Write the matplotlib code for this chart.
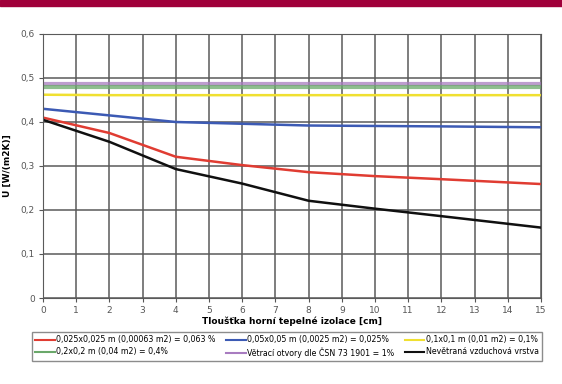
import matplotlib.pyplot as plt
from matplotlib.patches import Rectangle

# thickness of insulation [cm]
x = [0, 2, 4, 6, 8, 10, 12, 15]

u_red = [0.410, 0.375, 0.321, 0.302, 0.286, 0.277, 0.270, 0.259]
u_blue = [0.430, 0.415, 0.400, 0.396, 0.392, 0.391, 0.390, 0.388]
u_yellow = [0.462, 0.461, 0.461, 0.461, 0.461, 0.461, 0.461, 0.461]
u_green = [0.479, 0.479, 0.479, 0.479, 0.479, 0.479, 0.479, 0.479]
u_purple = [0.486, 0.486, 0.486, 0.486, 0.486, 0.486, 0.486, 0.486]
u_black = [0.405, 0.355, 0.293, 0.260, 0.221, 0.203, 0.186, 0.160]

labels = [
    "0,025x0,025 m (0,00063 m2) = 0,063 %",
    "0,05x0,05 m (0,0025 m2) = 0,025%",
    "0,1x0,1 m (0,01 m2) = 0,1%",
    "0,2x0,2 m (0,04 m2) = 0,4%",
    "Větrací otvory dle ČSN 73 1901 = 1%",
    "Nevětraná vzduchová vrstva",
]

xticks = list(range(0, 16))
yticks = [0, 0.1, 0.2, 0.3, 0.4, 0.5, 0.6]
ytick_labels = ["0", "0,1", "0,2", "0,3", "0,4", "0,5", "0,6"]

fig = plt.figure(figsize=(5.62, 3.84), dpi=100)
fig.patches.append(Rectangle((0, 1 - 6 / 384), 1, 6 / 384, transform=fig.transFigure,
                             color="#a0003a", zorder=0))

ax = fig.add_axes([43 / 562, 1 - 298 / 384, (541 - 43) / 562, (298 - 34) / 384])

ax.grid(True, color="#5a5a5a", linewidth=1.1)
ax.set_axisbelow(True)

l_purple, = ax.plot(x, u_purple, color="#a87cc0", linewidth=3, alpha=0.75)
l_green, = ax.plot(x, u_green, color="#6aa86a", linewidth=3, alpha=0.75)
l_yellow, = ax.plot(x, u_yellow, color="#f0e030", linewidth=1.8)
l_blue, = ax.plot(x, u_blue, color="#3c5ab4", linewidth=1.8)
l_red, = ax.plot(x, u_red, color="#e03c32", linewidth=1.8)
l_black, = ax.plot(x, u_black, color="#101010", linewidth=1.8)

ax.set_xlim(0, 15)
ax.set_ylim(0, 0.6)
ax.set_xticks(xticks)
ax.set_yticks(yticks)
ax.set_yticklabels(ytick_labels)
ax.tick_params(labelsize=6.5, colors="#555555", length=3, pad=3)
for s in ax.spines.values():
    s.set_color("#5a5a5a")

ax.set_xlabel("Tloušťka horní tepelné izolace [cm]", fontsize=6.5, fontweight="bold", labelpad=1)
ax.set_ylabel("U [W/(m2K)]", fontsize=6.5, fontweight="bold", labelpad=6)

handles = [l_red, l_green, l_blue, l_purple, l_yellow, l_black]
leg_labels = [labels[0], labels[3], labels[1], labels[4], labels[2], labels[5]]
leg = fig.legend(handles, leg_labels, ncol=3, fontsize=5.7, loc="upper left",
                 bbox_to_anchor=(28 / 562, 1 - 332 / 384, (546 - 28) / 562, 0.01),
                 mode="expand", frameon=True, fancybox=False, edgecolor="#707070",
                 handlelength=2.5, handletextpad=0.2, borderpad=0.4, labelspacing=0.4,
                 columnspacing=0.5)
leg.get_frame().set_linewidth(1.0)
for line in leg.get_lines():
    line.set_linewidth(1.5)
    line.set_alpha(1)

plt.savefig("out.png", dpi=100)
